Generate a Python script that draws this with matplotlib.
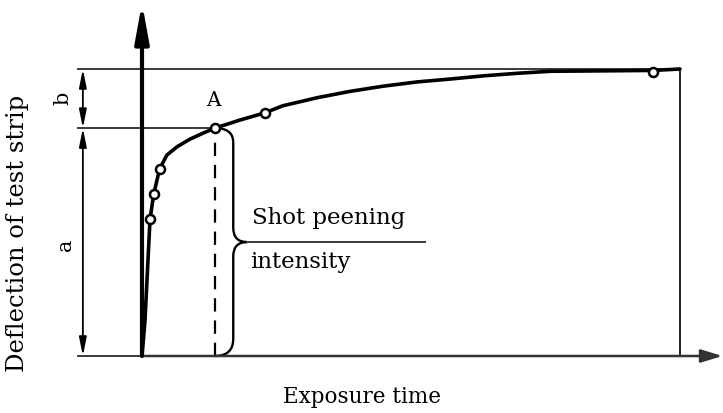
"""Shot peening saturation curve (Almen strip) - schematic."""
import matplotlib.pyplot as plt
from matplotlib.path import Path
from matplotlib.patches import PathPatch

# measured points (exposure time, deflection), A is the 4th point
t_meas = [0.11, 0.16, 0.24, 1.0, 1.68, 7.0]
d_meas = [4.77, 5.63, 6.51, 7.94, 8.47, 9.91]

# saturation curve traced through the points
t_curve = [0.0, 0.04, 0.11, 0.16, 0.24, 0.34, 0.48, 0.66, 0.84, 1.0, 1.34,
           1.68, 1.93, 2.40, 2.85, 3.30, 3.77, 4.22, 4.67, 5.14, 5.59, 7.0, 7.37]
d_curve = [0.0, 1.2, 4.77, 5.63, 6.51, 7.0, 7.29, 7.56, 7.77, 7.94, 8.22,
           8.47, 8.72, 9.0, 9.22, 9.4, 9.55, 9.65, 9.76, 9.85, 9.92, 9.95, 10.0]

d_top = 10.0       # saturation level (a + b)
t_end = 7.37       # end of the test series
i_A = 3            # index of point A
t_A, d_A = t_meas[i_A], d_meas[i_A]

# ---- figure: axes fill the whole canvas, no matplotlib spines
W, H = 723, 413
TX, DY = 73.0, 28.7          # px per unit time / deflection
X0, Y0 = 142, 356            # origin in pixels
fig = plt.figure(figsize=(W / 100, H / 100), dpi=100)
ax = fig.add_axes([0, 0, 1, 1])
ax.set_xlim(-X0 / TX, (W - X0) / TX)
ax.set_ylim(-(H - Y0) / DY, Y0 / DY)
ax.axis("off")

plt.rcParams["font.family"] = "DejaVu Serif"
thin = dict(color="#3a3a3a", lw=1.4)
x_left = -0.87

# reference lines
ax.plot([x_left, t_end], [d_top, d_top], **thin)
ax.plot([x_left, t_A], [d_A, d_A], **thin)
ax.plot([x_left, 0], [0, 0], **thin)
ax.plot([t_end, t_end], [0, d_top], color="#111111", lw=1.3)

# axes with arrows
ax.annotate("", xy=(0, 12.3), xytext=(0, 0),
            arrowprops=dict(arrowstyle="-|>,head_length=2.3,head_width=0.42",
                            color="black", lw=3.0, shrinkA=0, shrinkB=0))
ax.annotate("", xy=(7.95, 0), xytext=(0, 0),
            arrowprops=dict(arrowstyle="-|>,head_length=1.3,head_width=0.4",
                            color="#333333", lw=1.8, shrinkA=0, shrinkB=0))

# curve + measured points
ax.plot(t_curve, d_curve, color="black", lw=2.6, solid_capstyle="round", zorder=3)
ax.plot(t_meas, d_meas, "o", ms=6.5, mfc="white", mec="black", mew=1.8, zorder=4)

# dashed drop from A
ax.plot([t_A, t_A], [0, d_A], color="black", lw=1.6, ls=(0, (6, 4)))

# dimension arrows a / b
x_dim = -0.81
dim = dict(arrowstyle="<|-|>,head_length=1.1,head_width=0.22", color="black",
           lw=1.3, shrinkA=0, shrinkB=0)
ax.annotate("", xy=(x_dim, d_top), xytext=(x_dim, d_A), arrowprops=dim)
ax.annotate("", xy=(x_dim, d_A), xytext=(x_dim, 0), arrowprops=dim)
ax.text(-1.08, (d_top + d_A) / 2, "b", rotation=90, fontsize=15,
        ha="center", va="center")
ax.text(-1.05, d_A / 2 - 0.1, "a", rotation=90, fontsize=15,
        ha="center", va="center")
ax.text(t_A - 0.02, d_A + 0.95, "A", fontsize=14.5, ha="center", va="center")

# curly brace for shot peening intensity
xb = t_A + 0.25        # brace spine
xt = t_A + 0.44        # brace tip
r = 0.5
dm = d_A / 2
verts = [(t_A, d_A), (xb, d_A), (xb, d_A - r), (xb, d_A - r - 0.1),
         (xb, dm + r), (xb, dm), (xt, dm),
         (xb, dm), (xb, dm - r),
         (xb, r + 0.1),
         (xb, 0), (t_A, 0)]
codes = [Path.MOVETO, Path.CURVE3, Path.CURVE3, Path.LINETO,
         Path.LINETO, Path.CURVE3, Path.CURVE3,
         Path.CURVE3, Path.CURVE3,
         Path.LINETO,
         Path.CURVE3, Path.CURVE3]
ax.add_patch(PathPatch(Path(verts, codes), fill=False, color="black", lw=1.7))
ax.plot([xt, 3.88], [dm, dm], **thin)
ax.text(xt + 0.07, dm + 0.85, "Shot peening", fontsize=16.5, ha="left", va="center")
ax.text(xt + 0.04, dm - 0.68, "intensity", fontsize=16.5, ha="left", va="center")

# axis titles
ax.text(-1.70, 4.27, "Deflection of test strip", rotation=90, fontsize=17.5,
        ha="center", va="center")
ax.text(3.01, -1.43, "Exposure time", fontsize=15.5, ha="center", va="center")

fig.savefig("out.png", dpi=100)
